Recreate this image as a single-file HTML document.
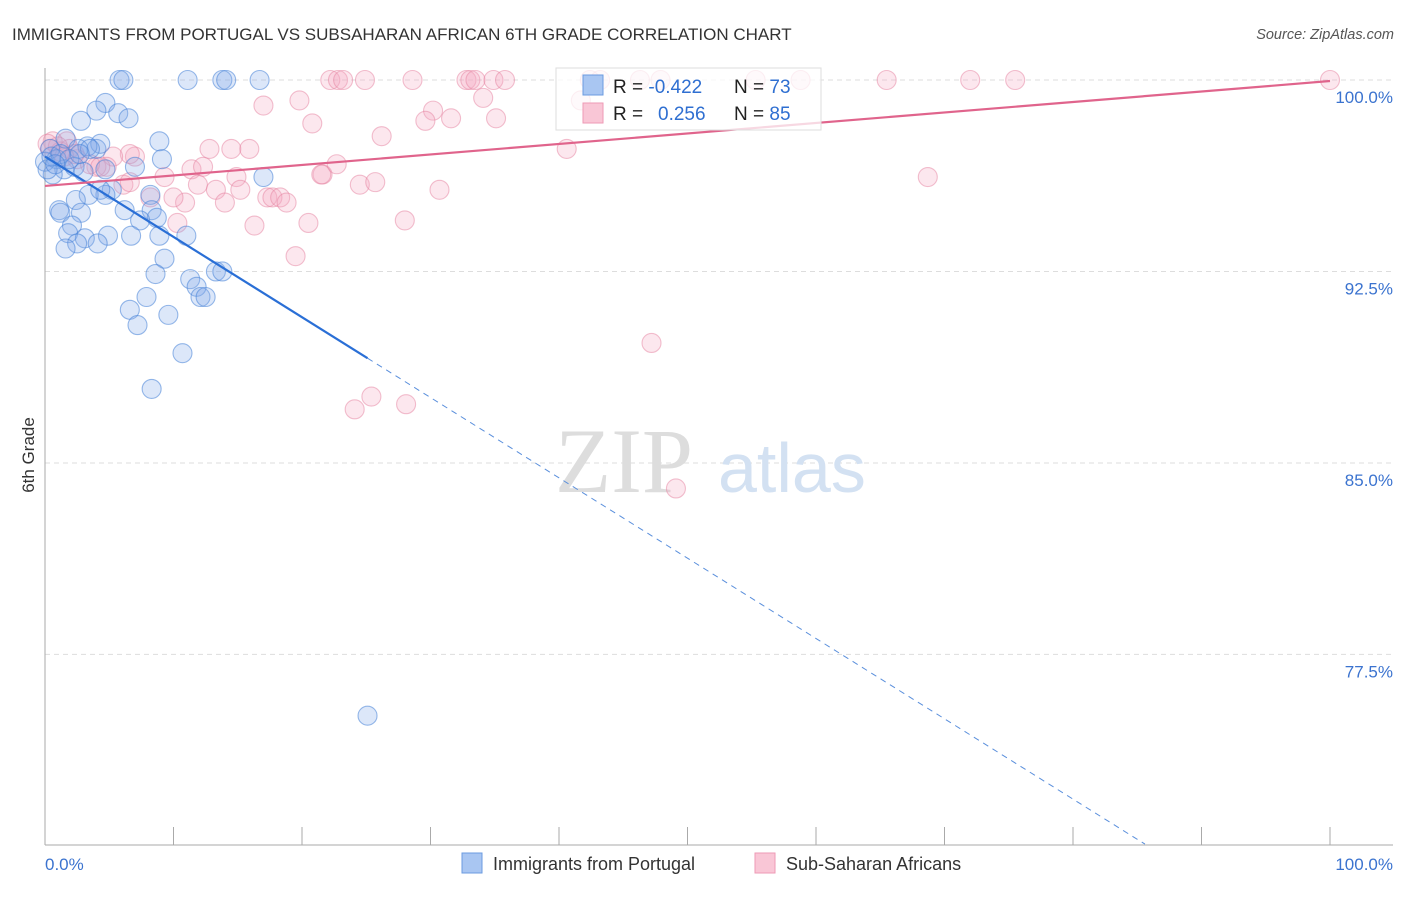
<!DOCTYPE html>
<html><head><meta charset="utf-8"><style>
body{margin:0;background:#fff;font-family:"Liberation Sans",sans-serif}
</style></head><body>
<svg width="1406" height="892" xmlns="http://www.w3.org/2000/svg" font-family="Liberation Sans, sans-serif">
<text x="12" y="40" font-size="17" fill="#333">IMMIGRANTS FROM PORTUGAL VS SUBSAHARAN AFRICAN 6TH GRADE CORRELATION CHART</text>
<text x="1394" y="39" font-size="14.5" fill="#555" font-style="italic" text-anchor="end">Source: ZipAtlas.com</text>
<g id="grid"></g>
<text x="555" y="492" font-size="92" fill="#ddd" font-family="Liberation Serif, serif">ZIP</text>
<text x="718" y="492" font-size="70" fill="#d3e1f2">atlas</text>
<g id="pts"></g>
<g id="lines"></g>
<text transform="translate(34,455) rotate(-90)" font-size="17" fill="#333" text-anchor="middle">6th Grade</text>
<g>
<rect x="556" y="68" width="265" height="62" fill="rgba(255,255,255,0.75)" stroke="#ddd"/>
<rect x="583" y="75" width="20" height="20" fill="#a9c6f2" stroke="#6b9be0"/>
<rect x="583" y="103" width="20" height="20" fill="#f9c6d6" stroke="#ee9ab5"/>
<text x="613" y="93" font-size="19" fill="#222">R = <tspan fill="#2f6fd1">-0.422</tspan></text>
<text x="734" y="93" font-size="19" fill="#222">N = <tspan fill="#2f6fd1">73</tspan></text>
<text x="613" y="120" font-size="19" fill="#222">R = <tspan fill="#2f6fd1" x="658">0.256</tspan></text>
<text x="734" y="120" font-size="19" fill="#222">N = <tspan fill="#2f6fd1">85</tspan></text>
</g>
<g>
<rect x="462" y="853" width="20" height="20" fill="#a9c6f2" stroke="#6b9be0"/>
<text x="493" y="870" font-size="18" fill="#333">Immigrants from Portugal</text>
<rect x="755" y="853" width="20" height="20" fill="#f9c6d6" stroke="#ee9ab5"/>
<text x="786" y="870" font-size="18" fill="#333">Sub-Saharan Africans</text>
</g>
</svg>
<script>
const yTicks=[100,92.5,85,77.5];
const yTickLabels=["100.0%","92.5%","85.0%","77.5%"];
const xEndLabels=["0.0%","100.0%"];
const blueX=[5.8,6.1,11.1,13.8,14.1,16.7,4.7,4.0,5.7,2.8,6.5,1.6,8.9,4.0,4.3,3.3,2.6,0.4,0.9,9.1,7.0,4.7,1.5,2.3,0.6,3.0,17.0,5.2,4.7,3.4,2.4,8.2,2.8,6.2,1.1,1.2,8.3,8.7,7.4,2.1,4.9,6.7,8.9,11.0,1.8,3.1,2.5,4.1,1.6,9.3,8.6,11.3,11.8,12.1,12.5,13.3,13.8,7.9,6.6,7.2,9.6,10.7,8.3,25.1,0,0.2,0.5,1.2,1.9,0.8,3.5,4.3,2.7];
const blueY=[100,100,100,100,100,100,99.1,98.8,98.7,98.4,98.5,97.7,97.6,97.3,97.5,97.4,97.3,97.3,96.9,96.9,96.6,96.5,96.5,96.6,96.3,96.4,96.2,95.7,95.5,95.5,95.3,95.5,94.8,94.9,94.9,94.8,94.9,94.6,94.5,94.3,93.9,93.9,93.9,93.9,94.0,93.8,93.6,93.6,93.4,93.0,92.4,92.2,91.9,91.5,91.5,92.5,92.5,91.5,91.0,90.4,90.8,89.3,87.9,75.1,96.8,96.5,97.0,97.1,96.9,96.7,97.3,95.7,97.1];
const pinkX=[22.2,22.8,23.2,24.9,28.6,32.8,33.1,33.5,34.9,35.8,42.4,43.2,46.3,47.9,55.3,58.8,65.5,72.0,75.5,100,17.0,19.8,20.8,30.2,34.1,35.1,31.6,29.6,26.2,40.6,41.7,12.8,14.5,15.9,11.4,12.3,14.9,11.9,13.3,15.2,14.0,17.3,17.7,18.3,18.8,16.3,20.5,19.5,10.3,10.9,10.0,9.3,8.2,7.0,6.6,5.3,4.8,4.0,2.5,1.7,0.6,0.4,1.2,1.9,21.6,22.7,6.1,3.5,21.5,24.5,25.7,30.7,28.0,24.1,25.4,28.1,47.2,49.1,68.7,1.0,2.3,4.3,6.6,0.2,1.5];
const pinkY=[100,100,100,100,100,100,100,100,100,100,100,100,100,100,100,100,100,100,100,100,99.0,99.2,98.3,98.8,99.3,98.5,98.5,98.4,97.8,97.3,99.2,97.3,97.3,97.3,96.5,96.6,96.2,95.9,95.7,95.7,95.2,95.4,95.4,95.4,95.2,94.3,94.4,93.1,94.4,95.2,95.4,96.2,95.4,97.0,97.1,97.0,96.6,96.6,96.9,97.6,97.6,97.3,97.2,97.3,96.3,96.7,95.9,96.7,96.3,95.9,96.0,95.7,94.5,87.1,87.6,87.3,89.7,84.0,96.2,97.4,97.1,96.6,96.0,97.5,97.0];
const blueTrend=[97.0,-0.3146], pinkTrend=[95.85,0.0411];
const X=v=>45+v*12.85, Y=v=>80+(100-v)*25.53;
const NS="http://www.w3.org/2000/svg";
function mk(t,a,p){const e=document.createElementNS(NS,t);for(const k in a)e.setAttribute(k,a[k]);p.appendChild(e);return e;}
const grid=document.getElementById('grid');
yTicks.forEach((t,i)=>{
 const l=mk('line',{x1:45,x2:1393,y1:Y(t),y2:Y(t),stroke:'#ddd','stroke-dasharray':'5,4'},grid);
 
 
 const tx=mk('text',{x:1393,y:Y(t)+23,'font-size':17,fill:'#3b73cf','text-anchor':'end'},grid);
 tx.textContent=yTickLabels[i];
 
 
});
const ax=mk('line',{x1:45,x2:45,y1:68,y2:845,stroke:'#aaa'},grid);


const bx=mk('line',{x1:45,x2:1393,y1:845,y2:845,stroke:'#aaa'},grid);


for(let i=0;i<=10;i++){
 const t=mk('line',{x1:X(i*10),x2:X(i*10),y1:827,y2:845,stroke:'#aaa'},grid);
 
 
}
[[0,'start',45],[1,'end',1393]].forEach(([i,a,x])=>{
 const t=mk('text',{x:x,y:870,'font-size':17,fill:'#3b73cf','text-anchor':a},grid);
 t.textContent=xEndLabels[i];
 
 
});
const pts=document.getElementById('pts');
pinkX.forEach((x,i)=>{
 const c=mk('circle',{cx:X(x),cy:Y(pinkY[i]),r:9.5,fill:'rgba(244,170,195,0.28)',stroke:'rgba(230,130,160,0.5)','stroke-width':1.1},pts);
 
 
});
blueX.forEach((x,i)=>{
 const c=mk('circle',{cx:X(x),cy:Y(blueY[i]),r:9.5,fill:'rgba(130,170,235,0.28)',stroke:'rgba(70,130,215,0.55)','stroke-width':1.1},pts);
 
 
});
const lines=document.getElementById('lines');
const bf=x=>blueTrend[0]+blueTrend[1]*x, pf=x=>pinkTrend[0]+pinkTrend[1]*x;
let l1=mk('line',{x1:X(0),y1:Y(bf(0)),x2:X(25.1),y2:Y(bf(25.1)),stroke:'#2a6fd6','stroke-width':2.2},lines);


let l2=mk('line',{x1:X(25.1),y1:Y(bf(25.1)),x2:X(85.6),y2:Y(bf(85.6)),stroke:'#5a8fdc','stroke-width':1,'stroke-dasharray':'6,5'},lines);


let l3=mk('line',{x1:X(0),y1:Y(pf(0)),x2:X(100),y2:Y(pf(100)),stroke:'#e0648c','stroke-width':2.2},lines);


</script>
</body></html>
